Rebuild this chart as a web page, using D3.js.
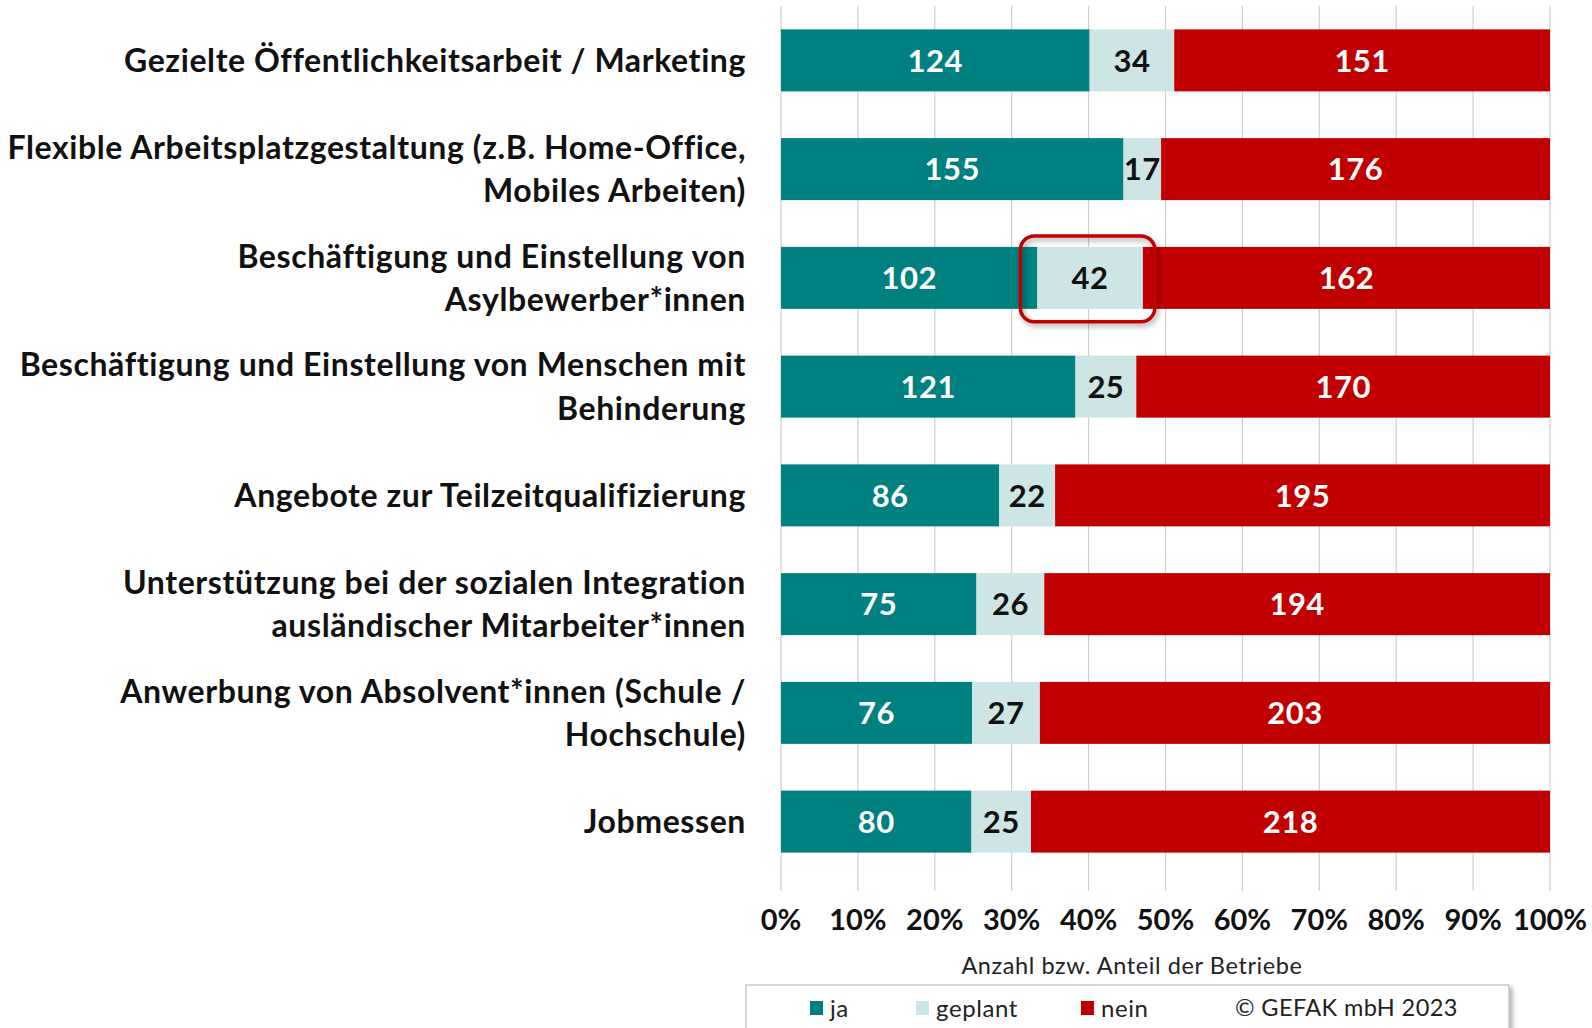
<!DOCTYPE html>
<html>
<head>
<meta charset="utf-8">
<script src="https://cdn.jsdelivr.net/npm/d3@7"></script>
<style>
  body { margin: 0; background: #fff; }
  svg { display: block; font-family: Lato, "Noto Sans", sans-serif; }
</style>
</head>
<body>
<svg id="chart" width="1592" height="1028"></svg>
<script>
// chart data
const categories = [
  "Gezielte Öffentlichkeitsarbeit / Marketing",
  "Flexible Arbeitsplatzgestaltung (z.B. Home-Office,\nMobiles Arbeiten)",
  "Beschäftigung und Einstellung von\nAsylbewerber*innen",
  "Beschäftigung und Einstellung von Menschen mit\nBehinderung",
  "Angebote zur Teilzeitqualifizierung",
  "Unterstützung bei der sozialen Integration\nausländischer Mitarbeiter*innen",
  "Anwerbung von Absolvent*innen (Schule /\nHochschule)",
  "Jobmessen"
];
const ja = [124, 155, 102, 121, 86, 75, 76, 80];
const geplant = [34, 17, 42, 25, 22, 26, 27, 25];
const nein = [151, 176, 162, 170, 195, 194, 203, 218];
const seriesNames = ["ja", "geplant", "nein"];
const tickValues = [0, 0.1, 0.2, 0.3, 0.4, 0.5, 0.6, 0.7, 0.8, 0.9, 1];
const highlightRow = 2;

const colors = { ja: "#008080", geplant: "#cde5e5", nein: "#c00000" };
const textColors = { ja: "#fff", geplant: "#111", nein: "#fff" };

const svg = d3.select("#chart");
const x = d3.scaleLinear().domain([0, 1]).range([781, 1550]);
const y = d3.scaleBand().domain(d3.range(categories.length)).range([6, 876]).paddingInner(0.43).paddingOuter(0.215);

// build rows of stacked proportions
let rows = categories.map((c, i) => {
  let vals = { ja: ja[i], geplant: geplant[i], nein: nein[i] };
  let total = ja[i] + geplant[i] + nein[i];
  let acc = 0;
  let segs = seriesNames.map(k => {
    let s = { key: k, value: vals[k], x0: acc / total, x1: (acc + vals[k]) / total, row: i };
    acc += vals[k];
    return s;
  });
  return { label: c, segs: segs };
});

// gridlines
svg.append("g").selectAll("line").data(tickValues).join("line")
  .attr("x1", d => x(d)).attr("x2", d => x(d))
  .attr("y1", 6).attr("y2", 891)
  .attr("stroke", "#cfcfcf").attr("stroke-width", 1.2);

// bars
let rowG = svg.append("g").selectAll("g").data(rows).join("g")
  .attr("transform", (d, i) => `translate(0, ${y(i)})`);

rowG.selectAll("rect").data(d => d.segs).join("rect")
  .attr("x", d => x(d.x0))
  .attr("width", d => x(d.x1) - x(d.x0))
  .attr("height", y.bandwidth())
  .attr("fill", d => colors[d.key]);

rowG.selectAll("text.val").data(d => d.segs).join("text")
  .attr("class", "val")
  .attr("x", d => (x(d.x0) + x(d.x1)) / 2)
  .attr("y", y.bandwidth() / 2)
  .attr("dy", "0.36em")
  .attr("text-anchor", "middle")
  .attr("font-size", 31)
  .attr("font-weight", "bold")
  .attr("letter-spacing", 0.5)
  .attr("fill", d => textColors[d.key])
  .text(d => d.value);

// highlight box
let defs = svg.append("defs");
let f = defs.append("filter").attr("id", "shadow").attr("x", "-20%").attr("y", "-20%").attr("width", "140%").attr("height", "150%");
f.append("feDropShadow").attr("dx", 2).attr("dy", 3).attr("stdDeviation", 2.5).attr("flood-color", "#000").attr("flood-opacity", 0.35);

let hs = rows[highlightRow].segs[1];
svg.append("rect")
  .attr("x", x(hs.x0) - 17)
  .attr("y", y(highlightRow) - 11)
  .attr("width", x(hs.x1) - x(hs.x0) + 29)
  .attr("height", y.bandwidth() + 24)
  .attr("rx", 14)
  .attr("fill", "none")
  .attr("stroke", "#c00000")
  .attr("stroke-width", 3.5)
  .attr("filter", "url(#shadow)");

// category labels
let lineH = 43.5;
svg.append("g").selectAll("text").data(rows).join("text")
  .attr("text-anchor", "end")
  .attr("font-size", 32)
  .attr("font-weight", "bold")
  .attr("letter-spacing", 0.6)
  .attr("fill", "#111")
  .each(function (d, i) {
    let lines = d.label.split("\n");
    let cy = y(i) + y.bandwidth() / 2;
    let t = d3.select(this);
    lines.forEach((ln, k) => {
      t.append("tspan")
        .attr("x", 746)
        .attr("y", cy + (k - (lines.length - 1) / 2) * lineH)
        .attr("dy", "0.36em")
        .text(ln);
    });
  });

// x axis tick labels
svg.append("g").selectAll("text").data(tickValues).join("text")
  .attr("x", d => x(d))
  .attr("y", 920)
  .attr("dy", "0.36em")
  .attr("text-anchor", "middle")
  .attr("font-size", 29)
  .attr("font-weight", "bold")
  .attr("fill", "#111")
  .text(d => d3.format(".0%")(d));

svg.append("text")
  .attr("x", 1132).attr("y", 966).attr("dy", "0.36em")
  .attr("text-anchor", "middle")
  .attr("font-size", 23.5)
  .attr("letter-spacing", 0.6)
  .attr("fill", "#222")
  .text("Anzahl bzw. Anteil der Betriebe");

// legend
let lf = defs.append("filter").attr("id", "lshadow").attr("x", "-5%").attr("y", "-20%").attr("width", "110%").attr("height", "150%");
lf.append("feDropShadow").attr("dx", 3).attr("dy", 3).attr("stdDeviation", 2).attr("flood-color", "#000").attr("flood-opacity", 0.3);
svg.append("rect")
  .attr("x", 746).attr("y", 985).attr("width", 763).attr("height", 60)
  .attr("fill", "#fff").attr("stroke", "#bbb").attr("stroke-width", 1.2)
  .attr("filter", "url(#lshadow)");

let legendX = [810, 916, 1081];
let lg = svg.append("g").selectAll("g").data(seriesNames).join("g")
  .attr("transform", (d, i) => `translate(${legendX[i]}, 1008)`);
lg.append("rect").attr("x", 0).attr("y", -7).attr("width", 13).attr("height", 14).attr("fill", d => colors[d]);
lg.append("text").attr("x", 20).attr("dy", "0.36em").attr("font-size", 24).attr("letter-spacing", 0.6)
  .attr("fill", "#222").text(d => d);

svg.append("text")
  .attr("x", 1235).attr("y", 1008).attr("dy", "0.36em")
  .attr("font-size", 23.5).attr("letter-spacing", 0.4).attr("fill", "#222")
  .text("© GEFAK mbH 2023");
</script>
</body>
</html>
